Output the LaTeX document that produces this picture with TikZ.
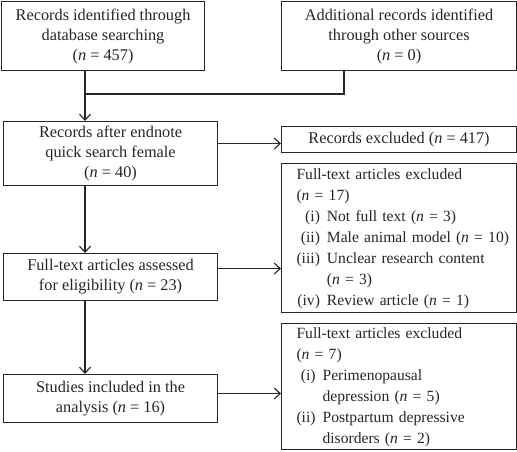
\documentclass[tikz,border=0pt]{standalone}
\usepackage{fontspec}
\setmainfont{Liberation Serif}
\usetikzlibrary{arrows.meta}
\newcommand{\nn}[1]{(\textit{n} = #1)}
\begin{document}
\begin{tikzpicture}[x=1pt,y=-1pt,line width=1.1pt,color=black!85,>={Straight Barb[length=6pt,width=11pt]}]
\tikzstyle{every node} = [draw,inner sep=0,anchor=north west,font=\fontsize{16.3}{20}\selectfont];
\tikzstyle{listbox} = [inner xsep=15pt,text width=205pt,align=left,font=\fontsize{15.6}{21}\selectfont];
\useasboundingbox (0,0) rectangle (517,451);
% left column
\foreach \n/\x/\y/\w/\h/\t in {1/1/1/203/69/{Records identified through\\database searching\\\nn{457}},
	3/3/121/214/64/{Records after endnote\\quick search female\\\nn{40}},
	6/3/253/214/47/{Full-text articles assessed\\for eligibility \nn{23}},
	7/3/374/214/48/{Studies included in the\\analysis \nn{16}}}{
	\node at (\x,\y) [minimum width=\w,minimum height=\h,align=center] (box_\n) {\t};
}
% right column
\node at (281,1) [minimum width=235,minimum height=69,align=center] (box_2) {Additional records identified\\through other sources\\\nn{0}};
\node at (281,126) [minimum width=235,minimum height=26,align=center] (box_4) {Records excluded \nn{417}};
\node at (281,163) [minimum height=149,listbox] (box_5) {\begin{tabular}{@{}r@{\hspace{7pt}}l@{}}
\multicolumn{2}{@{}l@{}}{Full-text articles excluded}\\
\multicolumn{2}{@{}l@{}}{\nn{17}}\\
(i) & Not full text \nn{3}\\
(ii) & Male animal model \nn{10}\\
(iii) & Unclear research content\\
 & \nn{3}\\
(iv) & Review article \nn{1}
\end{tabular}};
\node at (281,323) [minimum height=126,listbox] (box_8) {\begin{tabular}{@{}r@{\hspace{7pt}}l@{}}
\multicolumn{2}{@{}l@{}}{Full-text articles excluded}\\
\multicolumn{2}{@{}l@{}}{\nn{7}}\\
(i) & Perimenopausal\\
 & depression \nn{5}\\
(ii) & Postpartum depressive\\
 & disorders \nn{2}
\end{tabular}};
% connectors
\coordinate (j_1) at (85,94);
\coordinate (j_2) at (344,94);
\draw (j_1 |- box_1.south) -- (j_1) -- (j_2) -- (j_2 |- box_2.south);
\draw [->] (j_1) -- (j_1 |- box_3.north);
\foreach \a/\b in {3/6, 6/7}{
	\draw [->] (j_1 |- box_\a.south) -- (j_1 |- box_\b.north);}
\foreach \a/\b/\s in {3/4/10, 6/5/8.5, 7/8/5}{
	\draw [->] ([yshift=\s]box_\a.east) -- ([yshift=\s]box_\a.east -| box_\b.west);}
\end{tikzpicture}
\end{document}
